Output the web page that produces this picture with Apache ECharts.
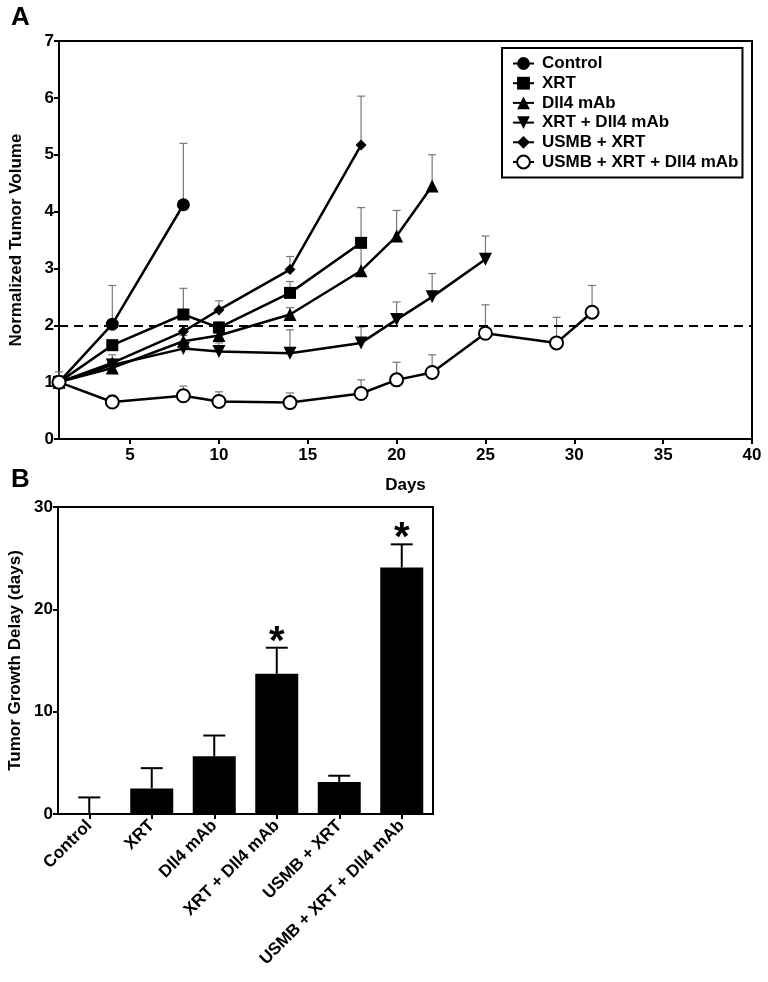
<!DOCTYPE html>
<html>
<head>
<meta charset="utf-8">
<script src="https://cdn.jsdelivr.net/npm/echarts@6/dist/echarts.min.js"></script>
<style>
  html, body { margin: 0; padding: 0; background: #fff; }
  #chart { width: 768px; height: 982px; }
</style>
</head>
<body>
<div id="chart"></div>
<script>
// Panel A: normalized tumor volume (mean, upper SEM)
const ctrlDays = [1, 4, 8];
const ctrlMean = [1, 2.02, 4.12];
const ctrlSem = [0, 0.68, 1.08];

const xrtDays = [1, 4, 8, 10, 14, 18];
const xrtMean = [1, 1.65, 2.19, 1.96, 2.57, 3.45];
const xrtSem = [0, 0.08, 0.46, 0.1, 0.2, 0.62];

const dllDays = [1, 4, 8, 10, 14, 18, 20, 22];
const dllMean = [1, 1.25, 1.72, 1.82, 2.19, 2.96, 3.57, 4.45];
const dllSem = [0, 0.05, 0.1, 0.1, 0.12, 0.45, 0.45, 0.55];

const xdDays = [1, 4, 8, 10, 14, 18, 20, 22, 25];
const xdMean = [1, 1.3, 1.59, 1.54, 1.51, 1.69, 2.1, 2.5, 3.16];
const xdSem = [0, 0.05, 0.12, 0.15, 0.41, 0.28, 0.31, 0.41, 0.41];

const uxDays = [1, 4, 8, 10, 14, 18];
const uxMean = [1, 1.34, 1.89, 2.27, 2.98, 5.17];
const uxSem = [0, 0.14, 0.1, 0.16, 0.23, 0.86];

const uxdDays = [1, 4, 8, 10, 14, 18, 20, 22, 25, 29, 31];
const uxdMean = [1, 0.65, 0.76, 0.66, 0.64, 0.8, 1.04, 1.17, 1.86, 1.69, 2.23];
const uxdSem = [0.18, 0.12, 0.17, 0.17, 0.17, 0.24, 0.31, 0.31, 0.5, 0.45, 0.47];

const dayTicks = [5, 10, 15, 20, 25, 30, 35, 40];

// Panel B: tumor growth delay
const groups = ['Control', 'XRT', 'Dll4 mAb', 'XRT + Dll4 mAb', 'USMB + XRT', 'USMB + XRT + Dll4 mAb'];
const delayMean = [0, 2.5, 5.65, 13.7, 3.12, 24.1];
const delaySem = [1.62, 1.98, 2.02, 2.55, 0.62, 2.25];
const significant = [false, false, false, true, false, true];

const FONT = 'Arial, "Liberation Sans", Helvetica, sans-serif';

const lineSets = [
  { name: 'Control', days: ctrlDays, mean: ctrlMean, sem: ctrlSem, symbol: 'circle', size: 13 },
  { name: 'XRT', days: xrtDays, mean: xrtMean, sem: xrtSem, symbol: 'rect', size: 12 },
  { name: 'Dll4 mAb', days: dllDays, mean: dllMean, sem: dllSem, symbol: 'triangle', size: 13 },
  { name: 'XRT + Dll4 mAb', days: xdDays, mean: xdMean, sem: xdSem, symbol: 'triangle', size: 13, rotate: 180 },
  { name: 'USMB + XRT', days: uxDays, mean: uxMean, sem: uxSem, symbol: 'diamond', size: 11 },
  { name: 'USMB + XRT + Dll4 mAb', days: uxdDays, mean: uxdMean, sem: uxdSem, symbol: 'emptyCircle', size: 13 }
];

const axisStyle = { lineStyle: { color: '#000', width: 2 } };
const tickStyle = { show: true, length: 5, lineStyle: { color: '#000', width: 2 } };
const labelStyle = { color: '#000', fontFamily: FONT, fontWeight: 'bold', fontSize: 17 };
const nameStyle = { color: '#000', fontFamily: FONT, fontWeight: 'bold', fontSize: 17 };

let series = [];

// error bars, panel A
let errA = [];
lineSets.forEach(s => {
  s.days.forEach((d, i) => { if (s.sem[i] > 0) errA.push([d, s.mean[i], s.sem[i]]); });
});
series.push({
  type: 'custom',
  xAxisIndex: 0, yAxisIndex: 0,
  z: 1,
  silent: true,
  data: errA,
  renderItem: (params, api) => {
    const p0 = api.coord([api.value(0), api.value(1)]);
    const p1 = api.coord([api.value(0), api.value(1) + api.value(2)]);
    const st = { stroke: '#777', lineWidth: 1.2 };
    return {
      type: 'group',
      children: [
        { type: 'line', shape: { x1: p0[0], y1: p0[1], x2: p1[0], y2: p1[1] }, style: st },
        { type: 'line', shape: { x1: p1[0] - 4, y1: p1[1], x2: p1[0] + 4, y2: p1[1] }, style: st }
      ]
    };
  }
});

lineSets.forEach((s, k) => {
  series.push({
    name: s.name,
    type: 'line',
    xAxisIndex: 0, yAxisIndex: 0,
    z: 3,
    data: s.days.map((d, i) => [d, s.mean[i]]),
    symbol: s.symbol,
    symbolSize: s.size,
    symbolRotate: s.rotate || 0,
    showSymbol: true,
    lineStyle: { color: '#000', width: 2.5 },
    itemStyle: { color: '#000', borderColor: '#000', borderWidth: s.symbol === 'emptyCircle' ? 1.6 : 0 },
    markLine: k === 0 ? {
      silent: true,
      symbol: 'none',
      label: { show: false },
      lineStyle: { color: '#000', width: 2, type: [9, 6] },
      data: [{ yAxis: 2 }]
    } : undefined
  });
});

// panel B bars
series.push({
  type: 'bar',
  xAxisIndex: 1, yAxisIndex: 1,
  data: delayMean,
  barWidth: 43,
  itemStyle: { color: '#000' },
  z: 2
});
series.push({
  type: 'custom',
  xAxisIndex: 1, yAxisIndex: 1,
  z: 3,
  silent: true,
  data: groups.map((g, i) => [i, delayMean[i], delaySem[i], significant[i] ? 1 : 0]),
  renderItem: (params, api) => {
    const p0 = api.coord([api.value(0), api.value(1)]);
    const p1 = api.coord([api.value(0), api.value(1) + api.value(2)]);
    const st = { stroke: '#000', lineWidth: 2 };
    const kids = [
      { type: 'line', shape: { x1: p0[0], y1: p0[1], x2: p1[0], y2: p1[1] }, style: st },
      { type: 'line', shape: { x1: p1[0] - 11, y1: p1[1], x2: p1[0] + 11, y2: p1[1] }, style: st }
    ];
    if (api.value(3)) {
      kids.push({
        type: 'text',
        style: {
          text: '*', x: p1[0], y: p1[1] + 15, align: 'center', verticalAlign: 'bottom',
          fontSize: 40, fontWeight: 'bold', fontFamily: FONT, fill: '#000'
        }
      });
    }
    return { type: 'group', children: kids };
  }
});

const option = {
  animation: false,
  backgroundColor: '#fff',
  graphic: [
    { type: 'text', left: 11, top: 5, style: { text: 'A', fontSize: 26, fontWeight: 'bold', fontFamily: FONT, fill: '#000' } },
    { type: 'text', left: 11, top: 467, style: { text: 'B', fontSize: 26, fontWeight: 'bold', fontFamily: FONT, fill: '#000' } }
  ],
  legend: {
    orient: 'vertical',
    left: 502,
    top: 48,
    padding: [7, 4, 7, 10],
    borderColor: '#000',
    borderWidth: 2,
    itemGap: 2.7,
    itemWidth: 21,
    itemHeight: 16,
    data: lineSets.map(s => s.name),
    textStyle: { color: '#000', fontFamily: FONT, fontWeight: 'bold', fontSize: 17, lineHeight: 16, padding: [0, 0, 0, 3] }
  },
  grid: [
    { left: 58, top: 41, width: 694, height: 398, show: true, borderColor: '#000', borderWidth: 2 },
    { left: 58, top: 507, width: 375, height: 307, show: true, borderColor: '#000', borderWidth: 2 }
  ],
  xAxis: [
    {
      gridIndex: 0, type: 'value', min: 1, max: 40,
      name: 'Days', nameLocation: 'middle', nameGap: 38,
      nameTextStyle: nameStyle,
      axisLine: axisStyle,
      axisTick: Object.assign({}, tickStyle, { customValues: dayTicks }),
      axisLabel: Object.assign({}, labelStyle, { customValues: dayTicks, margin: 8 }),
      splitLine: { show: false }
    },
    {
      gridIndex: 1, type: 'category', data: groups,
      axisLine: axisStyle,
      axisTick: Object.assign({}, tickStyle, { alignWithLabel: true }),
      axisLabel: Object.assign({}, labelStyle, { rotate: 45, interval: 0, margin: 9 }),
      splitLine: { show: false }
    }
  ],
  yAxis: [
    {
      gridIndex: 0, type: 'value', min: 0, max: 7, interval: 1,
      name: 'Normalized Tumor Volume', nameLocation: 'middle', nameGap: 34, nameRotate: 90,
      nameTextStyle: nameStyle,
      axisLine: Object.assign({ show: true }, axisStyle),
      axisTick: tickStyle,
      axisLabel: Object.assign({}, labelStyle, { margin: 5 }),
      splitLine: { show: false }
    },
    {
      gridIndex: 1, type: 'value', min: 0, max: 30, interval: 10,
      name: 'Tumor Growth Delay (days)', nameLocation: 'middle', nameGap: 34, nameRotate: 90,
      nameTextStyle: nameStyle,
      axisLine: Object.assign({ show: true }, axisStyle),
      axisTick: tickStyle,
      axisLabel: Object.assign({}, labelStyle, { margin: 5 }),
      splitLine: { show: false }
    }
  ],
  series: series
};

const myChart = echarts.init(document.getElementById('chart'));
myChart.setOption(option);
</script>
</body>
</html>
